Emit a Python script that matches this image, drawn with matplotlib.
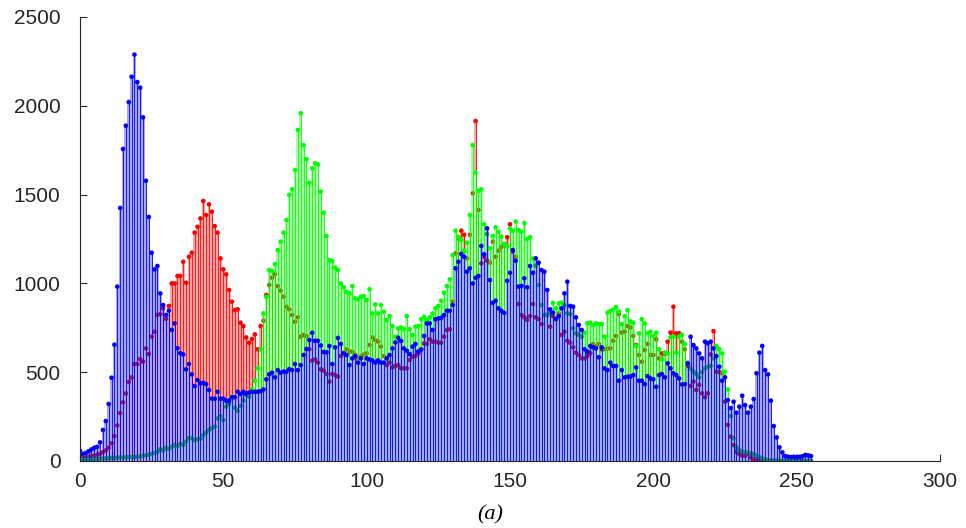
import numpy as np
import matplotlib
matplotlib.use("Agg")
import matplotlib.pyplot as plt

# histogram counts per intensity level (0..255)
red = [
    20, 15, 18, 22, 25, 30, 35, 40, 50, 60, 75, 100, 140, 200, 270, 330,
    380, 445, 470, 545, 546, 574, 559, 634, 602, 700, 728, 822, 827, 860, 800, 873,
    1000, 1000, 1042, 1042, 1122, 1004, 1150, 1173, 1286, 1319, 1366, 1464, 1385, 1445, 1404, 1323,
    1286, 1141, 1079, 1051, 963, 897, 850, 854, 779, 760, 696, 666, 687, 713, 629, 760,
    790, 935, 991, 1032, 1051, 985, 959, 925, 869, 854, 822, 784, 809, 700, 710, 704,
    629, 565, 572, 554, 516, 509, 490, 447, 490, 484, 475, 591, 610, 629, 616, 616,
    597, 578, 590, 600, 606, 653, 696, 681, 672, 644, 591, 540, 554, 527, 535, 540,
    522, 522, 522, 569, 587, 591, 606, 629, 662, 659, 685, 672, 672, 666, 666, 700,
    738, 742, 897, 1169, 1254, 1297, 1274, 1141, 1274, 1507, 1914, 1413, 1113, 1150, 1128, 1117,
    1235, 1150, 1184, 1205, 1222, 1260, 1333, 1179, 1150, 884, 822, 809, 794, 816, 884, 809,
    799, 771, 822, 822, 756, 816, 799, 830, 710, 728, 677, 666, 640, 610, 597, 578,
    578, 591, 606, 659, 644, 659, 629, 629, 634, 634, 677, 704, 827, 723, 728, 760,
    752, 704, 653, 597, 559, 625, 659, 597, 597, 685, 578, 606, 602, 672, 723, 869,
    719, 719, 672, 629, 535, 422, 447, 400, 428, 381, 359, 381, 600, 731, 503, 500,
    494, 334, 203, 137, 90, 52, 40, 30, 30, 40, 20, 10, 5, 3, 2, 1,
    1, 1, 0, 0, 0, 0, 0, 0, 0, 0, 0, 0, 0, 0, 0, 0,
]
green = [
    10, 8, 8, 10, 10, 12, 12, 14, 15, 15, 16, 17, 18, 18, 20, 20,
    21, 22, 22, 23, 24, 26, 30, 32, 35, 40, 45, 50, 66, 60, 75, 68,
    80, 90, 86, 95, 90, 109, 128, 128, 118, 122, 125, 146, 160, 175, 185, 193,
    240, 253, 230, 306, 321, 362, 300, 283, 310, 340, 372, 362, 403, 452, 522, 629,
    831, 925, 1075, 1070, 1109, 1188, 1235, 1286, 1357, 1498, 1530, 1638, 1864, 1958, 1779, 1700,
    1567, 1648, 1676, 1670, 1517, 1398, 1267, 1132, 1126, 1089, 1075, 1000, 978, 953, 944, 985,
    916, 910, 925, 929, 906, 967, 831, 882, 831, 878, 841, 794, 816, 760, 700, 747,
    752, 742, 816, 742, 710, 756, 760, 798, 812, 794, 809, 831, 860, 873, 903, 948,
    985, 1023, 1160, 1297, 1263, 1244, 1184, 1229, 1385, 1779, 1623, 1522, 1530, 1333, 1278, 1198,
    1267, 1316, 1291, 1263, 1222, 1210, 1310, 1297, 1348, 1300, 1290, 1340, 1250, 1260, 1140, 1100,
    991, 878, 822, 822, 835, 890, 860, 888, 892, 878, 831, 827, 747, 719, 710, 700,
    723, 775, 779, 766, 775, 771, 771, 700, 835, 845, 852, 867, 841, 771, 816, 850,
    786, 779, 648, 719, 799, 775, 719, 728, 704, 723, 629, 572, 610, 606, 696, 700,
    610, 700, 710, 659, 554, 520, 503, 490, 471, 500, 522, 530, 535, 578, 648, 630,
    606, 503, 403, 253, 128, 77, 60, 55, 50, 48, 45, 38, 30, 22, 15, 10,
    6, 4, 3, 2, 2, 1, 1, 1, 0, 0, 0, 0, 0, 0, 0, 0,
]
blue = [
    58, 40, 45, 55, 65, 75, 80, 105, 175, 225, 321, 469, 655, 982, 1425, 1757,
    1888, 2021, 2164, 2288, 2134, 2102, 1935, 1578, 1374, 1173, 1079, 1098, 944, 878, 822, 846,
    738, 775, 635, 607, 600, 516, 546, 488, 422, 456, 437, 440, 433, 400, 351, 351,
    390, 351, 351, 340, 340, 359, 359, 390, 378, 390, 380, 385, 390, 390, 390, 393,
    403, 460, 488, 497, 471, 512, 497, 503, 503, 518, 512, 546, 512, 540, 597, 631,
    681, 722, 677, 677, 651, 614, 612, 648, 546, 640, 693, 659, 606, 597, 540, 578,
    591, 554, 578, 546, 578, 572, 567, 554, 567, 554, 554, 578, 597, 634, 668, 694,
    676, 634, 621, 602, 644, 659, 616, 628, 704, 775, 775, 738, 798, 803, 806, 822,
    846, 846, 878, 1085, 1122, 1166, 1150, 1066, 1085, 1000, 1032, 1042, 1211, 1164, 1310, 1019,
    891, 903, 860, 846, 834, 1015, 1060, 1188, 1128, 982, 986, 1029, 978, 1098, 1060, 1141,
    1117, 1075, 1066, 963, 854, 835, 800, 816, 860, 944, 1010, 873, 869, 809, 766, 738,
    629, 616, 648, 640, 634, 584, 640, 522, 512, 554, 535, 535, 452, 512, 471, 475,
    475, 484, 527, 452, 452, 433, 478, 465, 460, 418, 484, 490, 471, 550, 522, 494,
    484, 465, 431, 433, 550, 700, 653, 634, 606, 578, 672, 663, 672, 634, 591, 531,
    452, 471, 343, 298, 334, 272, 306, 368, 315, 272, 306, 349, 494, 610, 648, 512,
    488, 340, 197, 133, 77, 49, 28, 24, 22, 24, 22, 24, 26, 34, 32, 28,
]

xticks = [0, 50, 100, 150, 200, 250, 300]
yticks = [0, 500, 1000, 1500, 2000, 2500]

channels = [
    (red, '#ff0000', '#ffa6a6'),
    (green, '#00ff00', '#a8ffa8'),
    (blue, '#0000ff', '#a6a6ff'),
]

fig = plt.figure(figsize=(9.66, 5.28), dpi=100)
ax = fig.add_axes([80 / 966, 67 / 528, 860 / 966, 444 / 528])

levels = np.arange(256)
r = np.array(red)
g = np.array(green)
b = np.array(blue)

# markers hidden under another channel's stems look darker/mixed
r_mk = np.where(b > r, '#a01060', np.where(g > r, '#9a6a10', '#ff0000'))
g_mk = np.where(b > g, '#10905a', '#00ff00')
b_mk = np.full(256, '#0000ff')
marker_cols = [r_mk, g_mk, b_mk]

# light fill between the stems, later channels on top
for vals, c, light in channels:
    ax.bar(levels, vals, width=1.0, color=light, linewidth=0, zorder=1)

# stems and markers
for i, (vals, c, light) in enumerate(channels):
    ax.vlines(levels, 0, vals, colors=c, linewidth=0.6, zorder=2 + 2 * i)
    ax.scatter(levels, vals, s=11, c=marker_cols[i], marker='o',
               linewidths=0, zorder=3 + 2 * i)

ax.set_xlim(0, 300)
ax.set_ylim(0, 2500)
ax.set_xticks(xticks)
ax.set_yticks(yticks)
for s in ['top', 'right']:
    ax.spines[s].set_visible(False)
for s in ['left', 'bottom']:
    ax.spines[s].set_color('#262626')
    ax.spines[s].set_linewidth(0.8)
    ax.spines[s].set_zorder(10)
ax.tick_params(direction='in', length=5, width=0.8, colors='#262626',
               labelsize=15, pad=8)
ax.tick_params(axis='y', pad=14)
for lab in ax.get_xticklabels() + ax.get_yticklabels():
    lab.set_fontfamily('Liberation Sans')

fig.text(490 / 966, 1 - 515 / 528, '(a)', ha='center', va='center',
         fontsize=16, fontstyle='italic', fontfamily='Liberation Serif')

fig.savefig('out.png', dpi=100)
